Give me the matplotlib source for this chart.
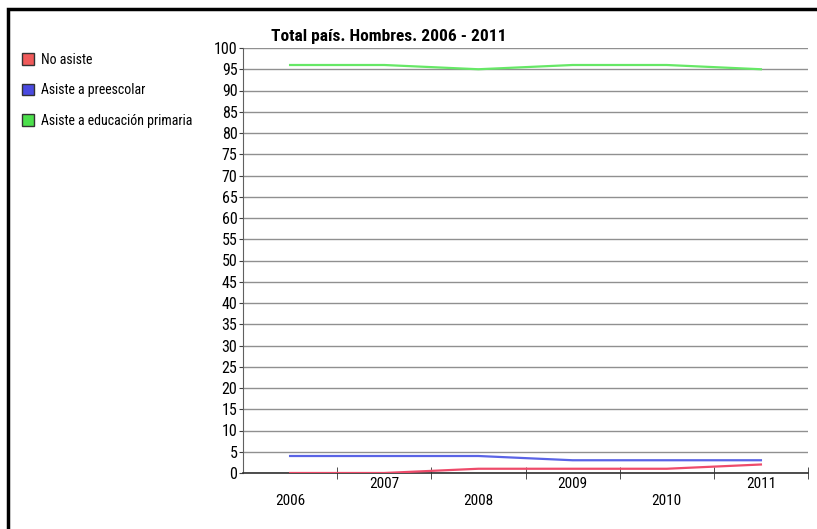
import numpy as np
import matplotlib.pyplot as plt
from matplotlib.patches import Patch, Rectangle

years = ["2006", "2007", "2008", "2009", "2010", "2011"]
no_asiste = [0, 0, 1, 1, 1, 2]
preescolar = [4, 4, 4, 3, 3, 3]
primaria = [96, 96, 95, 96, 96, 95]

series = [
    ("No asiste", no_asiste, "#ee4b6a", "#f05a5a"),
    ("Asiste a preescolar", preescolar, "#5a64e6", "#4a4ae0"),
    ("Asiste a educación primaria", primaria, "#66e866", "#4ce04c"),
]

plt.rcParams["font.family"] = ["Roboto Condensed", "Liberation Sans", "DejaVu Sans"]

W, H = 817, 529
fig = plt.figure(figsize=(W / 100, H / 100), dpi=100)
ax = fig.add_axes([243 / W, 1 - 473 / H, (808 - 243) / W, (473 - 48) / H])

x = np.arange(len(years))
for name, vals, lc, pc in series:
    ax.plot(x, vals, color=lc, lw=1.6, zorder=3)

ax.set_xlim(-0.5, len(years) - 0.5)
ax.set_ylim(0, 100)
ax.set_yticks(np.arange(0, 101, 5))
ax.yaxis.grid(True, color="#909090", lw=1.0)
ax.set_axisbelow(True)
ax.tick_params(axis="y", labelsize=11.5, length=3, color="#404040", pad=1)

ax.set_xticks(x)
ax.set_xticklabels(years, fontsize=11)
ax.set_xticks(np.arange(0.5, len(years), 1), minor=True)
ax.tick_params(axis="x", which="major", length=0)
ax.tick_params(axis="x", which="minor", length=8, direction="inout", color="#303030")
for i, t in enumerate(ax.xaxis.get_major_ticks()):
    t.set_pad(15 if i % 2 == 0 else 3)

for s in ["top", "right"]:
    ax.spines[s].set_visible(False)
ax.spines["left"].set_color("#606060")
ax.spines["bottom"].set_color("#303030")
ax.spines["bottom"].set_linewidth(1.2)

fig.text(389 / W, 1 - 37 / H, "Total país. Hombres. 2006 - 2011", ha="center",
         va="center", fontsize=12.5, fontweight="bold")

handles = [Patch(facecolor=pc, edgecolor="#333333", label=name) for name, _, _, pc in series]
fig.legend(handles=handles, loc="upper left", bbox_to_anchor=(16 / W, 1 - 47 / H),
           frameon=False, fontsize=10, handlelength=0.9, handleheight=0.9,
           handletextpad=0.5, labelspacing=1.2, borderaxespad=0)

fig.patches.append(Rectangle((8 / W, -0.1), 1.2, 1 - 9 / H + 0.1, transform=fig.transFigure,
                             fill=False, edgecolor="black", lw=2.5))

fig.savefig("out.png", dpi=100)
